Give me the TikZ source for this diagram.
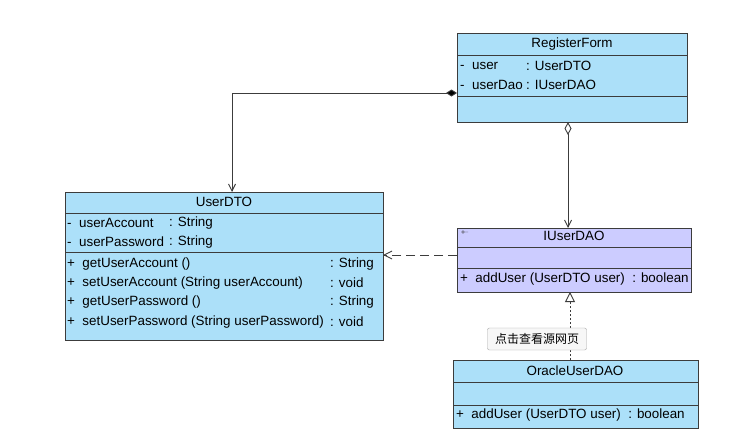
\documentclass[tikz,border=0pt]{standalone}
\usepackage{fontspec}
\setmainfont{Liberation Sans}
\newfontfamily\cjk{Noto Sans CJK SC}
\usetikzlibrary{arrows.meta}
\definecolor{clsblue}{RGB}{172,224,249}
\definecolor{ifcpurple}{RGB}{204,204,255}
\definecolor{linegray}{RGB}{60,60,60}
\begin{document}
\begin{tikzpicture}[x=1pt,y=-1pt,
  cls/.style={draw=linegray,line width=1pt,fill=clsblue,anchor=north west,inner sep=0pt},
  ifc/.style={cls,fill=ifcpurple},
  txt/.style={font=\fontsize{13.4}{15}\selectfont,inner sep=0pt,anchor=west},
  ttl/.style={font=\fontsize{13.4}{15}\selectfont,inner sep=0pt},
  conn/.style={draw=linegray,line width=0.9pt},
  divider/.style={draw=linegray,line width=0.9pt}]
\useasboundingbox (0,0) rectangle (747,444);
\fill[white] (0,0) rectangle (747,444);

% RegisterForm
\node[cls,minimum width=230,minimum height=89] (rf) at (457,33) {};
\draw[divider] (457,55) -- (687,55);
\draw[divider] (457,96) -- (687,96);
\node[ttl] (rft) at (572,44) {RegisterForm};
\node[txt] (rf1a) at (460,66) {-\ \ user};
\node[txt] (rf1b) at (526,66) {: UserDTO};
\node[txt] (rf2a) at (460,85) {-\ \ userDao};
\node[txt] (rf2b) at (526,85) {: IUserDAO};

% UserDTO
\node[cls,minimum width=318,minimum height=148] (dto) at (65,192) {};
\draw[divider] (65,213) -- (383,213);
\draw[divider] (65,252) -- (383,252);
\node[ttl] (dtot) at (224,202) {UserDTO};
\node[txt] (d1a) at (67,223) {-\ \ userAccount};
\node[txt] (d1b) at (169,223) {: String};
\node[txt] (d2a) at (67,242) {-\ \ userPassword};
\node[txt] (d2b) at (169,242) {: String};
\node[txt] (m1a) at (67,264) {+\ \ getUserAccount ()};
\node[txt] (m1b) at (330,264) {: String};
\node[txt] (m2a) at (67,283) {+\ \ setUserAccount (String userAccount)};
\node[txt] (m2b) at (330,283) {: void};
\node[txt] (m3a) at (67,302) {+\ \ getUserPassword ()};
\node[txt] (m3b) at (330,302) {: String};
\node[txt] (m4a) at (67,322) {+\ \ setUserPassword (String userPassword)};
\node[txt] (m4b) at (330,322) {: void};

% IUserDAO
\node[ifc,minimum width=234,minimum height=64] (iu) at (457,228) {};
\draw[divider] (457,247) -- (691,247);
\draw[divider] (457,268) -- (691,268);
\node[ttl] (iut) at (574,236) {IUserDAO};
\draw[linegray,line width=0.4pt] (463,232) circle (1.3) (464.3,232) -- (468,232);
\node[txt] (iu1) at (460,279) {+\ \ addUser (UserDTO user)\ \ : boolean};

% OracleUserDAO
\node[cls,minimum width=245,minimum height=68] (ou) at (453,360) {};
\draw[divider] (453,382) -- (698,382);
\draw[divider] (453,405) -- (698,405);
\node[ttl] (out) at (575,371) {OracleUserDAO};
\node[txt] (ou1) at (456,415) {+\ \ addUser (UserDTO user)\ \ : boolean};

% composition RegisterForm -> UserDTO
\coordinate (c1s) at (457,93);
\coordinate (c1e) at (232,192);
\draw[conn,{Diamond[fill=black,length=11pt,width=7pt]}-{Straight Barb[length=7pt,width=7pt]}] (c1s) -| (c1e);

% aggregation RegisterForm -> IUserDAO
\coordinate (c2s) at (568,122);
\coordinate (c2e) at (568,228);
\draw[conn,{Diamond[open,fill=white,length=13pt,width=7pt]}-{Straight Barb[length=7pt,width=7pt]}] (c2s) -- (c2e);

% dependency IUserDAO -> UserDTO
\coordinate (c3s) at (457,255);
\coordinate (c3e) at (383,255);
\draw[conn,dash pattern=on 9pt off 5pt,-{Straight Barb[length=8pt,width=8pt]}] (c3s) -- (c3e);

% realization OracleUserDAO -> IUserDAO
\coordinate (c4s) at (570,360);
\coordinate (c4e) at (570,292);
\draw[conn,dash pattern=on 2pt off 2pt,-{Triangle[open,fill=white,length=10pt,width=10pt]}] (c4s) -- (c4e);

% label
\node[draw=gray!70,fill=gray!6,rounded corners=2pt,minimum width=99,minimum height=22,inner sep=0pt,font=\cjk\fontsize{12}{14}\selectfont] (lbl) at (537,339) {点击查看源网页};
\end{tikzpicture}
\end{document}
